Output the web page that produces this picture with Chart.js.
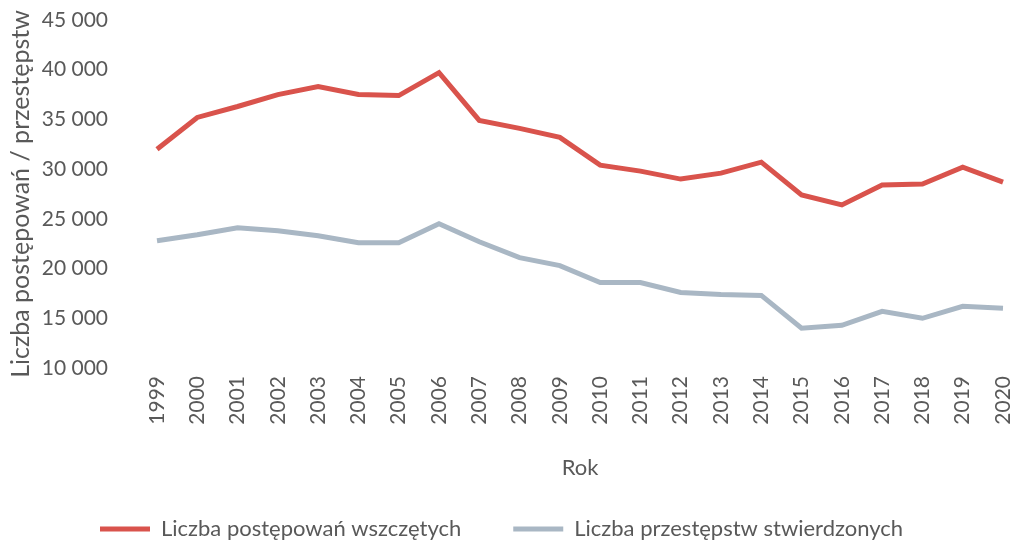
<!DOCTYPE html>
<html>
<head>
<meta charset="utf-8">
<script src="https://cdn.jsdelivr.net/npm/chart.js@4/dist/chart.umd.min.js"></script>
<style>
  body { margin: 0; background: #fff; }
  #wrap { width: 1011px; height: 545px; }
</style>
</head>
<body>
<div id="wrap"><canvas id="lata_chart" width="1011" height="545"></canvas></div>
<script>
// lata i wartości
var lata = ['1999','2000','2001','2002','2003','2004','2005','2006','2007','2008','2009',
            '2010','2011','2012','2013','2014','2015','2016','2017','2018','2019','2020'];
var postepowania = [32000, 35200, 36300, 37500, 38300, 37500, 37400, 39700, 34900, 34100, 33200,
                    30400, 29800, 29000, 29600, 30700, 27400, 26400, 28400, 28500, 30200, 28700];
var przestepstwa = [22800, 23400, 24100, 23800, 23300, 22600, 22600, 24500, 22700, 21100, 20300,
                    18600, 18600, 17600, 17400, 17300, 14000, 14300, 15700, 15000, 16200, 16000];
var nazwy_serii = ['Liczba postępowań wszczętych', 'Liczba przestępstw stwierdzonych'];

var kolor_tekstu = '#595959';

function formatuj(v)
{
    var s = String(v);
    return s.replace(/\B(?=(\d{3})+(?!\d))/g, ' ');
}

// legenda: cienka linia zamiast grubej ramki, odstęp między pozycjami
function legenda(chart)
{
    var items = Chart.defaults.plugins.legend.labels.generateLabels(chart);
    for(var i = 0; i < items.length; i++)
    {
        items[i].lineWidth = 0;
        if(i < items.length - 1) items[i].text = items[i].text + '\u2003\u2003\u2002';
    }
    return items;
}

var ctx = document.getElementById('lata_chart').getContext('2d');
var chart = new Chart(ctx, {
    type: 'line',
    data: {
        labels: lata,
        datasets: [
            {
                label: nazwy_serii[0],
                data: postepowania,
                borderColor: '#d9534c',
                backgroundColor: '#d9534c',
                borderWidth: 5,
                pointRadius: 0,
                tension: 0
            },
            {
                label: nazwy_serii[1],
                data: przestepstwa,
                borderColor: '#a9b7c4',
                backgroundColor: '#a9b7c4',
                borderWidth: 5,
                pointRadius: 0,
                tension: 0
            }
        ]
    },
    options: {
        responsive: false,
        animation: false,
        layout: { padding: { top: 20, right: 8, bottom: -5, left: 0 } },
        plugins: {
            tooltip: { enabled: false },
            legend: {
                position: 'bottom',
                labels: {
                    boxWidth: 50,
                    boxHeight: 5,
                    padding: 8,
                    color: kolor_tekstu,
                    font: { family: 'Lato', size: 22 },
                    generateLabels: legenda
                }
            }
        },
        scales: {
            x: {
                offset: false,
                grid: { display: false, drawTicks: false },
                border: { display: false },
                ticks: {
                    color: kolor_tekstu,
                    font: { family: 'Lato', size: 21 },
                    minRotation: 90,
                    maxRotation: 90,
                    padding: 8
                },
                title: {
                    display: true,
                    text: 'Rok',
                    color: kolor_tekstu,
                    font: { family: 'Lato', size: 22 },
                    padding: { top: 0, bottom: 29 }
                },
                afterFit: function(scale) {
                    scale.height = 142;
                    scale.paddingLeft = 0;
                    scale.paddingRight = 0;
                }
            },
            y: {
                min: 10000,
                max: 45000,
                grid: { display: false, drawTicks: false },
                border: { display: false },
                ticks: {
                    stepSize: 5000,
                    color: kolor_tekstu,
                    font: { family: 'Lato', size: 21 },
                    padding: 49,
                    callback: function(v) { return formatuj(v); }
                },
                title: {
                    display: true,
                    text: 'Liczba postępowań / przestępstw',
                    color: kolor_tekstu,
                    font: { family: 'Lato', size: 25 },
                    padding: { top: 6, bottom: 0 }
                },
                afterFit: function(scale) {
                    scale.width = 157;
                    scale.paddingTop = 0;
                    scale.paddingBottom = 0;
                }
            }
        }
    }
});
</script>
</body>
</html>
